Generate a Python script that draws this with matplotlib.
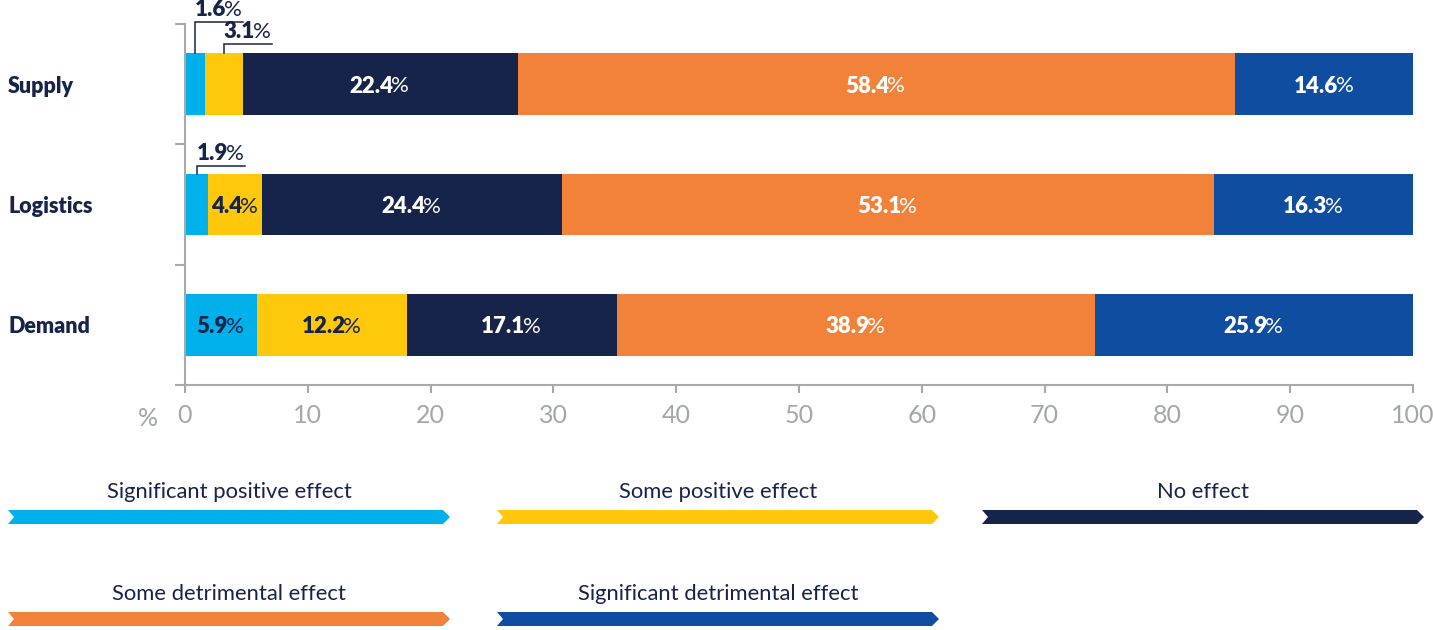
"""
Stacked horizontal bar chart: effect on supply, logistics and demand.
"""
import matplotlib
matplotlib.use("Agg")
import matplotlib.pyplot as plt
from matplotlib.patches import Polygon
from matplotlib.transforms import blended_transform_factory

plt.rcParams["font.family"] = ["Lato", "DejaVu Sans"]

# data
categories = ["Supply", "Logistics", "Demand"]
effects = [
    "Significant positive effect",
    "Some positive effect",
    "No effect",
    "Some detrimental effect",
    "Significant detrimental effect",
]
supply = [1.6, 3.1, 22.4, 58.4, 14.6]
logistics = [1.9, 4.4, 24.4, 53.1, 16.3]
demand = [5.9, 12.2, 17.1, 38.9, 25.9]
values = [supply, logistics, demand]
x_ticks = [0, 10, 20, 30, 40, 50, 60, 70, 80, 90, 100]

colors = ["#00b0ea", "#ffc80a", "#16234b", "#f2823a", "#0e4da0"]
text_colors = ["#16234b", "#16234b", "white", "white", "white"]
NAVY = "#16234b"
GREY = "#a7a9ac"

# labels pulled out above the bar with a leader line: (row, segment) -> rise in px
outside = {(0, 0): 31, (0, 1): 9, (1, 0): 8}

W, H, DPI = 1433, 630, 100
fig = plt.figure(figsize=(W / DPI, H / DPI), dpi=DPI)
ax = fig.add_axes([185 / W, 1 - 385 / H, (1413 - 185) / W, (385 - 24) / H])

bar_h = 0.51
for i, row in enumerate(values):
    left = 0
    for j, v in enumerate(row):
        ax.barh(i, v, left=left, height=bar_h, color=colors[j], linewidth=0)
        left += v

ax.set_xlim(0, 100)
ax.set_ylim(len(categories) - 0.5, -0.5)

for s in ["top", "right"]:
    ax.spines[s].set_visible(False)
for s in ["left", "bottom"]:
    ax.spines[s].set_color(GREY)
    ax.spines[s].set_linewidth(1.5)

ax.set_xticks(x_ticks)
ax.tick_params(axis="x", length=6, width=1.5, color=GREY, labelcolor="#a3a6aa",
               labelsize=18, pad=8)
ax.set_yticks([k - 0.5 for k in range(len(categories) + 1)])
ax.set_yticklabels([])
ax.tick_params(axis="y", length=7.5, width=1.5, color=GREY)

# "%" unit left of the 0 tick
fig.text(148 / W, 1 - 418 / H, "%", color="#a3a6aa", fontsize=18,
         ha="center", va="center")

# category labels
trans_cat = blended_transform_factory(fig.transFigure, ax.transData)
for i, c in enumerate(categories):
    ax.text(8 / W, i, c, transform=trans_cat, fontsize=15.5, fontweight="heavy",
            color=NAVY, ha="left", va="center_baseline")

renderer = fig.canvas.get_renderer()
to_data = ax.transData.inverted()


def px_to_dx(px):
    x0 = to_data.transform((0, 0))[0]
    x1 = to_data.transform((px, 0))[0]
    return x1 - x0


def px_to_dy(px):
    y0 = to_data.transform((0, 0))[1]
    y1 = to_data.transform((0, px))[1]
    return y1 - y0


def pct_label(x, y, value, color, va="center_baseline", centered=True):
    num = ax.text(x, y, f"{value:.1f}", fontsize=16, fontweight="heavy",
                  color=color, ha="left", va=va, clip_on=False)
    pct = ax.text(x, y, "%", fontsize=16, fontweight="normal",
                  color=color, ha="left", va=va, clip_on=False)
    wn = num.get_window_extent(renderer).width
    wp = pct.get_window_extent(renderer).width
    start = x - px_to_dx((wn + wp) / 2) if centered else x
    num.set_x(start)
    pct.set_x(start + px_to_dx(wn - 2))
    return wn + wp - 2


for i, row in enumerate(values):
    left = 0
    for j, v in enumerate(row):
        xc = left + v / 2
        if (i, j) in outside:
            top = i - bar_h / 2
            ly = top + px_to_dy(outside[(i, j)])
            w = pct_label(xc, ly + px_to_dy(2), v, NAVY, va="bottom", centered=False)
            ax.plot([xc, xc, xc + px_to_dx(w + 1)], [top, ly, ly], color=NAVY,
                    lw=1.1, clip_on=False, solid_joinstyle="miter")
        else:
            pct_label(xc, i, v, text_colors[j])
        left += v

# legend: chevron ribbons with labels above
lg = fig.add_axes([0, 0, 1, 1])
lg.set_xlim(0, W)
lg.set_ylim(H, 0)
lg.axis("off")
lg.patch.set_alpha(0)
col_x = [8, 497, 982]
row_y = [510, 612]
ribbon_w, ribbon_h = 442, 14
for k, (name, col) in enumerate(zip(effects, colors)):
    x0 = col_x[k % 3]
    yt = row_y[k // 3]
    yb = yt + ribbon_h
    ym = (yt + yb) / 2
    x1 = x0 + ribbon_w
    pts = [(x0, yt), (x1 - 7, yt), (x1, ym), (x1 - 7, yb), (x0, yb), (x0 + 6, ym)]
    lg.add_patch(Polygon(pts, closed=True, color=col, lw=0))
    lg.text(x0 + ribbon_w / 2, yt - 18, name, fontsize=15.8, color=NAVY,
            ha="center", va="center")

fig.savefig("out.png", dpi=DPI)
